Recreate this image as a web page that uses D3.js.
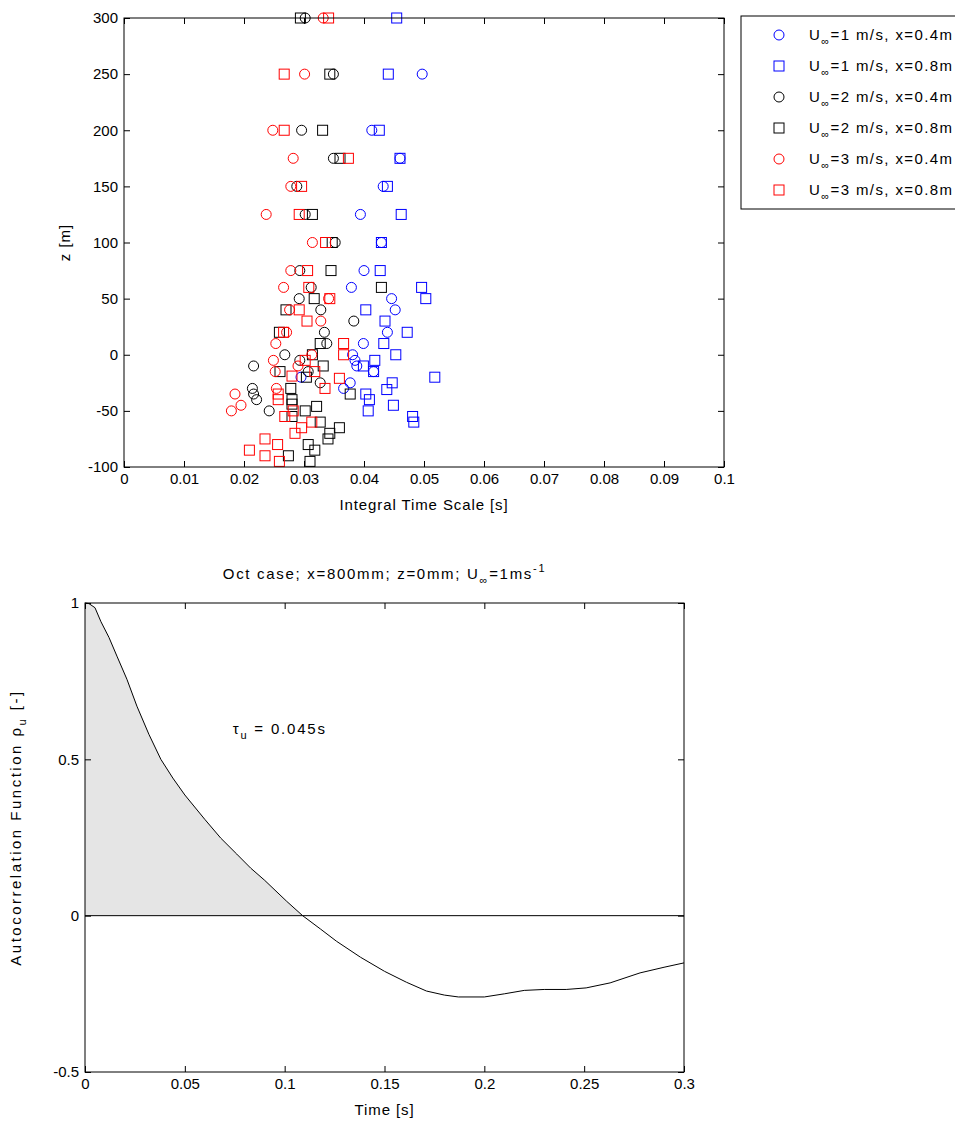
<!DOCTYPE html>
<html>
<head>
<meta charset="utf-8">
<script src="https://cdn.jsdelivr.net/npm/d3@7"></script>
<style>
  html, body { margin: 0; padding: 0; background: #fff; }
  svg { display: block; }
  text { font-family: 'Liberation Sans', Arial, sans-serif; font-size: 15px; fill: #000; }
</style>
</head>
<body>
<svg id="fig" width="955" height="1124"></svg>
<script>
// ---- Integral time scale profiles: [time scale (s), z (m)] ----
const u1x04 = [[0.0497,250],[0.0413,200],[0.046,175],[0.0432,150],[0.0394,125],[0.0429,100],[0.0400,75],[0.0379,60],[0.0446,50],[0.0452,40],[0.0439,20],[0.0399,10],[0.0381,0],[0.0385,-5],[0.0388,-10],[0.0416,-15],[0.0295,-20],[0.0377,-25],[0.0366,-30]];
const u1x08 = [[0.04545,300],[0.04405,250],[0.04255,200],[0.046,175],[0.0439,150],[0.0462,125],[0.0429,100],[0.0427,75],[0.0496,60],[0.0503,50],[0.0403,40],[0.0435,30],[0.0472,20],[0.0433,10],[0.0453,0],[0.0418,-5],[0.0399,-10],[0.0416,-15],[0.0518,-20],[0.0447,-25],[0.0438,-31],[0.0403,-35],[0.0409,-40],[0.0449,-45],[0.0407,-50],[0.0481,-55],[0.0483,-60]];
const u2x04 = [[0.0302,300],[0.0349,250],[0.0296,200],[0.0349,175],[0.0288,150],[0.0302,125],[0.0352,100],[0.0293,75],[0.0312,60],[0.0292,50],[0.0328,40],[0.0383,30],[0.0334,20],[0.0338,10],[0.0268,0],[0.0293,-5],[0.0216,-10],[0.0307,-15],[0.0327,-25],[0.0214,-30],[0.0216,-35],[0.0221,-40],[0.0242,-50]];
const u2x08 = [[0.0294,300],[0.0343,250],[0.0331,200],[0.036,175],[0.0314,125],[0.0347,100],[0.0345,75],[0.0429,60],[0.0317,50],[0.027,40],[0.0259,20],[0.0327,10],[0.0314,0],[0.0332,-10],[0.026,-15],[0.0304,-20],[0.0278,-30],[0.0377,-35],[0.028,-40],[0.028,-44],[0.0321,-46],[0.0302,-50],[0.028,-55],[0.0327,-60],[0.0359,-65],[0.0343,-70],[0.034,-75],[0.0307,-80],[0.0318,-85],[0.0274,-90],[0.031,-95]];
const u3x04 = [[0.0332,300],[0.0301,250],[0.0248,200],[0.0282,175],[0.0278,150],[0.0237,125],[0.0314,100],[0.0278,75],[0.0266,60],[0.0341,50],[0.0276,40],[0.0328,30],[0.0271,20],[0.0253,10],[0.0313,0],[0.0249,-5],[0.029,-10],[0.0252,-15],[0.0254,-30],[0.0185,-35],[0.0195,-45],[0.0179,-50]];
const u3x08 = [[0.0341,300],[0.0267,250],[0.0267,200],[0.0374,175],[0.0296,150],[0.0292,125],[0.0336,100],[0.0306,75],[0.0308,60],[0.0343,50],[0.0292,40],[0.0305,30],[0.0266,20],[0.0366,10],[0.0366,0],[0.0302,-5],[0.0318,-15],[0.028,-19],[0.0359,-21],[0.0335,-30],[0.0257,-35],[0.0257,-40],[0.0282,-50],[0.0268,-55],[0.0313,-60],[0.0296,-65],[0.0285,-70],[0.0235,-75],[0.0256,-80],[0.0209,-85],[0.0235,-90],[0.0259,-95]];

const seriesSpeeds = ["1", "1", "2", "2", "3", "3"];
const seriesStations = ["0.4", "0.8", "0.4", "0.8", "0.4", "0.8"];
const seriesShapes = ["circle", "square", "circle", "square", "circle", "square"];
const seriesColors = ["#0000ff", "#0000ff", "#000000", "#000000", "#ff0000", "#ff0000"];
const seriesData = [u1x04, u1x08, u2x04, u2x08, u3x04, u3x08];

const scatterXTicks = [0, 0.01, 0.02, 0.03, 0.04, 0.05, 0.06, 0.07, 0.08, 0.09, 0.1];
const scatterYTicks = [-100, -50, 0, 50, 100, 150, 200, 250, 300];

// ---- Autocorrelation at x=800 mm, z=0 mm, U=1 m/s ----
const lagTime = [0,0.002,0.005,0.008,0.012,0.016,0.021,0.026,0.032,0.038,0.044,0.05,0.06,0.068,0.076,0.083,0.09,0.101,0.109,0.118,0.126,0.138,0.15,0.161,0.171,0.18,0.187,0.2,0.21,0.22,0.23,0.241,0.251,0.263,0.278,0.29,0.3];
const rho = [1,0.998,0.985,0.94,0.89,0.83,0.756,0.67,0.58,0.5,0.44,0.386,0.308,0.248,0.197,0.152,0.113,0.046,0,-0.043,-0.082,-0.133,-0.178,-0.213,-0.241,-0.254,-0.26,-0.26,-0.25,-0.239,-0.236,-0.236,-0.231,-0.215,-0.183,-0.165,-0.151];
const acfXTicks = [0, 0.05, 0.1, 0.15, 0.2, 0.25, 0.3];
const acfYTicks = [-0.5, 0, 0.5, 1];
const zeroCrossing = 0.109;

const svg = d3.select("#fig");
const TICK = 6;
const fmt = d => String(d);

function boxAxes(g, x, y, xt, yt, w, h) {
  g.append("g").attr("transform", `translate(0,${h})`)
    .call(d3.axisBottom(x).tickValues(xt).tickFormat(fmt).tickSizeInner(-TICK).tickSizeOuter(0).tickPadding(6));
  g.append("g")
    .call(d3.axisTop(x).tickValues(xt).tickFormat("").tickSizeInner(-TICK).tickSizeOuter(0));
  g.append("g")
    .call(d3.axisLeft(y).tickValues(yt).tickFormat(fmt).tickSizeInner(-TICK).tickSizeOuter(0).tickPadding(6));
  g.append("g").attr("transform", `translate(${w},0)`)
    .call(d3.axisRight(y).tickValues(yt).tickFormat("").tickSizeInner(-TICK).tickSizeOuter(0));
  g.selectAll(".domain").remove();
  g.selectAll(".tick line").attr("stroke", "#000");
  g.selectAll(".tick text").style("font-size", "15px").attr("fill", "#000");
  g.append("rect").attr("width", w).attr("height", h)
    .attr("fill", "none").attr("stroke", "#000").attr("stroke-width", 1);
}

// ================= Top panel: scatter =================
const A = { left: 124, top: 18, w: 600, h: 449 };
const gA = svg.append("g").attr("transform", `translate(${A.left},${A.top})`);
const xA = d3.scaleLinear().domain([0, 0.1]).range([0, A.w]);
const yA = d3.scaleLinear().domain([-100, 300]).range([A.h, 0]);

function drawMarker(sel, shape, color) {
  if (shape === "circle") {
    sel.append("circle").attr("r", 5).attr("fill", "none").attr("stroke", color).attr("stroke-width", 1);
  } else {
    sel.append("rect").attr("x", -5).attr("y", -5).attr("width", 10).attr("height", 10)
      .attr("fill", "none").attr("stroke", color).attr("stroke-width", 1);
  }
}

const markLayer = gA.append("g");
seriesData.forEach((data, i) => {
  const pts = markLayer.append("g").selectAll("g").data(data).join("g")
    .attr("transform", d => `translate(${xA(d[0])},${yA(d[1])})`);
  drawMarker(pts, seriesShapes[i], seriesColors[i]);
});
boxAxes(gA, xA, yA, scatterXTicks, scatterYTicks, A.w, A.h);

gA.append("text").attr("x", A.w / 2).attr("y", A.h + 43).attr("text-anchor", "middle")
  .style("letter-spacing", "0.9px").text("Integral Time Scale [s]");
gA.append("text").attr("transform", `translate(-54,${A.h / 2}) rotate(-90)`)
  .attr("text-anchor", "middle").style("letter-spacing", "1px").text("z [m]");

// legend
const leg = svg.append("g").attr("transform", "translate(741,16)");
leg.append("rect").attr("width", 240).attr("height", 193).attr("fill", "#fff")
  .attr("stroke", "#000").attr("stroke-width", 1);
seriesData.forEach((_, i) => {
  const row = leg.append("g").attr("transform", `translate(0,${19 + i * 31})`);
  drawMarker(row.append("g").attr("transform", "translate(38,0)"), seriesShapes[i], seriesColors[i]);
  const t = row.append("text").attr("x", 68).attr("y", 5).style("letter-spacing", "1.4px");
  t.append("tspan").text("U");
  t.append("tspan").attr("dy", 5).style("font-size", "11px").text("\u221E");
  t.append("tspan").attr("dy", -5).text(`=${seriesSpeeds[i]} m/s, x=${seriesStations[i]}m`);
});

// ================= Bottom panel: autocorrelation =================
const B = { left: 85, top: 603, w: 599, h: 469 };
const gB = svg.append("g").attr("transform", `translate(${B.left},${B.top})`);
const xB = d3.scaleLinear().domain([0, 0.3]).range([0, B.w]);
const yB = d3.scaleLinear().domain([-0.5, 1]).range([B.h, 0]);
const acf = lagTime.map((t, i) => [t, rho[i]]);

gB.append("path")
  .datum(acf.filter(d => d[0] <= zeroCrossing))
  .attr("fill", "#e5e5e5")
  .attr("d", d3.area().x(d => xB(d[0])).y0(yB(0)).y1(d => yB(d[1])));

gB.append("line").attr("x1", 0).attr("x2", B.w).attr("y1", yB(0)).attr("y2", yB(0))
  .attr("stroke", "#000").attr("stroke-width", 1);

gB.append("path").datum(acf)
  .attr("fill", "none").attr("stroke", "#000").attr("stroke-width", 1)
  .attr("d", d3.line().x(d => xB(d[0])).y(d => yB(d[1])));

boxAxes(gB, xB, yB, acfXTicks, acfYTicks, B.w, B.h);

gB.append("text").attr("x", B.w / 2).attr("y", B.h + 43).attr("text-anchor", "middle")
  .style("letter-spacing", "0.9px").text("Time [s]");

const yl = gB.append("text").attr("transform", `translate(-64,${B.h / 2 - 10}) rotate(-90)`)
  .attr("text-anchor", "middle").style("letter-spacing", "2.5px");
yl.append("tspan").text("Autocorrelation Function \u03C1");
yl.append("tspan").attr("dy", 5).style("font-size", "11px").text("u");
yl.append("tspan").attr("dy", -5).text(" [-]");

const ttl = gB.append("text").attr("x", B.w / 2).attr("y", -24).attr("text-anchor", "middle")
  .style("letter-spacing", "1.7px");
ttl.append("tspan").text("Oct case; x=800mm; z=0mm; U");
ttl.append("tspan").attr("dy", 5).style("font-size", "11px").text("\u221E");
ttl.append("tspan").attr("dy", -5).text("=1ms");
ttl.append("tspan").attr("dy", -7).style("font-size", "11px").text("-1");

const ann = gB.append("text").attr("x", xB(0.074)).attr("y", yB(0.58)).style("letter-spacing", "1.8px");
ann.append("tspan").text("\u03C4");
ann.append("tspan").attr("dy", 5).style("font-size", "11px").text("u");
ann.append("tspan").attr("dy", -5).text(" = 0.045s");
</script>
</body>
</html>
